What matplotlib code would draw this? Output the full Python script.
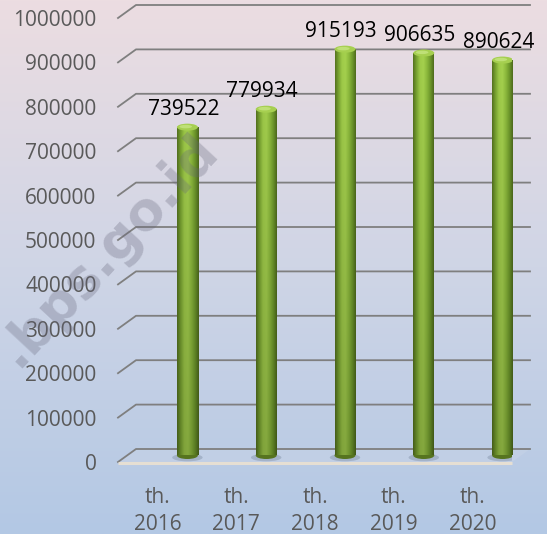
import numpy as np
import matplotlib.pyplot as plt
from matplotlib.colors import LinearSegmentedColormap
from matplotlib.patches import Ellipse

# data
years = ['th.\n2016', 'th.\n2017', 'th.\n2018', 'th.\n2019', 'th.\n2020']
values = [739522, 779934, 915193, 906635, 890624]
yticks = [0, 100000, 200000, 300000, 400000, 500000, 600000, 700000, 800000, 900000, 1000000]

W, H = 547, 534
fig = plt.figure(figsize=(W / 100, H / 100), dpi=100)

# background gradient (pinkish top -> blue bottom)
bg = fig.add_axes([0, 0, 1, 1], zorder=-10)
bg_cmap = LinearSegmentedColormap.from_list('bg', ['#b3c8e4', '#cfd5e6', '#ecdde1'])
bg.imshow(np.linspace(0, 1, 256).reshape(-1, 1)[::-1], aspect='auto', cmap=bg_cmap,
          extent=[0, 1, 0, 1])
bg.axis('off')

# front plane of the plot
left, right, y0, ytop = 118, 512, 462, 18
ax = fig.add_axes([left / W, (H - y0) / H, (right - left) / W, (y0 - ytop) / H])
ax.patch.set_alpha(0)
for s in ax.spines.values():
    s.set_visible(False)

xmin, xmax = -0.5, len(values) - 0.5
ymax = 1000000
px_x = (right - left) / (xmax - xmin)   # pixels per category
px_y = (y0 - ytop) / ymax                # pixels per unit

# 3d depth offset (front -> back wall), in data units
DX = 18 / px_x
DY = 13 / px_y

# floor
ax.fill([xmin, xmin + DX, xmax + DX, xmax], [0, DY, DY, 0], color='#c6d3e6', alpha=0.6,
        zorder=1, clip_on=False, lw=0)
ax.plot([xmin, xmax], [-1 / px_y, -1 / px_y], color='#e6dfd3', lw=2.2, zorder=2,
        clip_on=False, solid_capstyle='butt')

# gridlines with the slanted side wall segment
for v in yticks:
    ax.plot([xmin, xmin + DX, xmax + DX], [v, v + DY, v + DY], color='#7f7f7f', lw=1.3,
            zorder=1.5, clip_on=False)

# cylinder bars: horizontal shading, darker towards the floor
profile = ['#55731f', '#7aa532', '#9fcb49', '#a5d14e', '#8dba3d', '#6f9a2c', '#4f6c1d']
cyl = LinearSegmentedColormap.from_list('cyl', profile)
row = cyl(np.linspace(0, 1, 64))[:, :3]
shift_x = 30 / px_x
bw = 21 / px_x
cap_h = 7 / px_y
xs = np.arange(len(values)) + shift_x
bars = ax.bar(xs, values, width=bw, bottom=DY / 2, color='none', zorder=3)
for b, x, v in zip(bars, xs, values):
    ys = np.linspace(v + DY / 2, DY / 2, 200)
    fac = 0.80 + 0.22 * (ys / ymax)
    img = np.clip(row[None, :, :] * fac[:, None, None], 0, 1)
    # soft shadow on floor
    ax.add_patch(Ellipse((x, DY / 2 - 2 / px_y), bw * 1.45, cap_h * 1.1,
                         color='#3f5068', alpha=0.22, zorder=2.5, lw=0))
    ax.add_patch(Ellipse((x, DY / 2), bw, cap_h, color='#56741f', zorder=3, lw=0))
    im = ax.imshow(img, aspect='auto', zorder=3.2,
                   extent=[x - bw / 2, x + bw / 2, DY / 2, v + DY / 2])
    im.set_clip_path(b)
    ax.add_patch(Ellipse((x, v + DY / 2), bw, cap_h, color='#a6cf50', zorder=3.5, lw=0))
    ax.add_patch(Ellipse((x - bw * 0.08, v + DY / 2 + cap_h * 0.08), bw * 0.6, cap_h * 0.5,
                         color='#bfe077', zorder=3.6, lw=0))
    ax.annotate(f'{v}', (x, v + DY / 2), xytext=(-4, 12), textcoords='offset pixels',
                ha='center', va='baseline', fontsize=15, family='Open Sans',
                color='black', zorder=5)

ax.set_xlim(xmin, xmax)
ax.set_ylim(0, ymax)
ax.set_xticks(range(len(values)))
ax.set_xticklabels(years, family='Open Sans', fontsize=15, color='#595959', linespacing=1.35)
ax.set_yticks(yticks)
ax.set_yticklabels([str(v) for v in yticks], family='Open Sans', fontsize=15, color='#595959')
ax.tick_params(axis='y', length=0, pad=15.5)
ax.tick_params(axis='x', length=0, pad=18)

# watermark
fig.text(18 / W, 1 - 368 / H, '.bps.go.id', rotation=47, rotation_mode='anchor',
         ha='left', va='baseline', fontsize=38, fontweight='bold', family='DejaVu Sans',
         color='#66667a', alpha=0.3, zorder=10)

fig.savefig('out.png', dpi=100)
